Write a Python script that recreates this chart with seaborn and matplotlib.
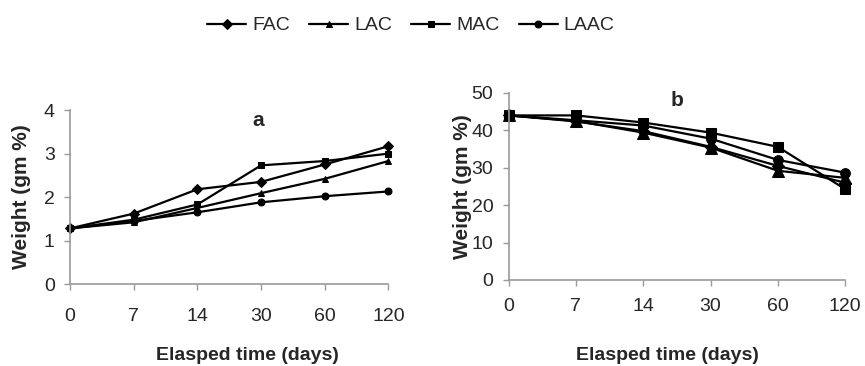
import matplotlib
matplotlib.use("Agg")
import matplotlib.pyplot as plt
import seaborn as sns
import pandas as pd

sns.set_style("white")
plt.rcParams['font.family'] = ['Liberation Sans', 'DejaVu Sans']

days = ["0", "7", "14", "30", "60", "120"]
series = ["FAC", "LAC", "MAC", "LAAC"]
markers = {"FAC": "D", "LAC": "^", "MAC": "s", "LAAC": "o"}
msize = {"FAC": 6, "LAC": 8, "MAC": 7, "LAAC": 7}

a_FAC = [1.28, 1.62, 2.18, 2.35, 2.75, 3.17]
a_LAC = [1.28, 1.42, 1.75, 2.09, 2.42, 2.83]
a_MAC = [1.28, 1.48, 1.83, 2.73, 2.83, 3.00]
a_LAAC = [1.28, 1.45, 1.65, 1.88, 2.02, 2.13]

b_FAC = [44.0, 42.4, 39.8, 35.6, 30.5, 26.0]
b_LAC = [44.0, 42.5, 39.4, 35.4, 29.2, 27.3]
b_MAC = [44.0, 44.0, 42.1, 39.4, 35.6, 24.3]
b_LAAC = [44.0, 42.7, 41.3, 37.8, 32.1, 28.7]

def make_df(vals):
    rows = []
    for name, v in zip(series, vals):
        for i, (d, y) in enumerate(zip(days, v)):
            rows.append({"pos": i, "day": d, "series": name, "value": y})
    return pd.DataFrame(rows)

dfa = make_df([a_FAC, a_LAC, a_MAC, a_LAAC])
dfb = make_df([b_FAC, b_LAC, b_MAC, b_LAAC])

fig = plt.figure(figsize=(8.65, 3.66), dpi=100)
axa = fig.add_axes([0.081, 0.224, 0.368, 0.475])
axb = fig.add_axes([0.588, 0.235, 0.389, 0.511])

for ax, df, ylim, yticks, xl_pos, yl_pos, xpad in [
    (axa, dfa, (0, 4), [0, 1, 2, 3, 4], (0.557, -0.414), (-0.151, 0.5), 13),
    (axb, dfb, (0, 50), [0, 10, 20, 30, 40, 50], (0.473, -0.403), (-0.137, 0.5), 9),
]:
    for name in series:
        sub = df[df["series"] == name]
        sns.lineplot(data=sub, x="pos", y="value", ax=ax, color="black",
                     marker=markers[name], markersize=msize[name],
                     markeredgecolor="black", linewidth=1.6, label=name,
                     legend=False)
    ax.set_xlim(0, 5)
    ax.set_ylim(*ylim)
    ax.set_yticks(yticks)
    ax.set_xticks(range(len(days)))
    ax.set_xticklabels(days)
    ax.tick_params(axis="both", labelsize=14, direction="out", length=4,
                   color="#999999", width=1, bottom=True, left=True)
    ax.tick_params(axis="x", pad=xpad)
    ax.tick_params(axis="y", pad=7)
    for s in ["top", "right"]:
        ax.spines[s].set_visible(False)
    for s in ["left", "bottom"]:
        ax.spines[s].set_color("#999999")
        ax.spines[s].set_linewidth(1.2)
    ax.set_xlabel("Elasped time (days)", fontsize=14, fontweight="bold", va="center")
    ax.set_ylabel("Weight (gm %)", fontsize=15, fontweight="bold", va="center")
    ax.xaxis.set_label_coords(*xl_pos)
    ax.yaxis.set_label_coords(*yl_pos)
    for ln in ax.lines:
        ln.set_clip_on(False)

fig.text(258 / 865, 1 - 121 / 366, "a", fontsize=15, fontweight="bold",
         ha="center", va="center")
fig.text(677 / 865, 1 - 100 / 366, "b", fontsize=15, fontweight="bold",
         ha="center", va="center")

handles, labels = axa.get_legend_handles_labels()
for h in handles:
    h.set_markersize(5)
fig.legend(handles, labels, loc="center", bbox_to_anchor=(0.475, 0.93), ncol=4,
           frameon=False, fontsize=14, handlelength=2.0, columnspacing=1.0,
           handletextpad=0.3)

fig.savefig("out.png", dpi=100)
